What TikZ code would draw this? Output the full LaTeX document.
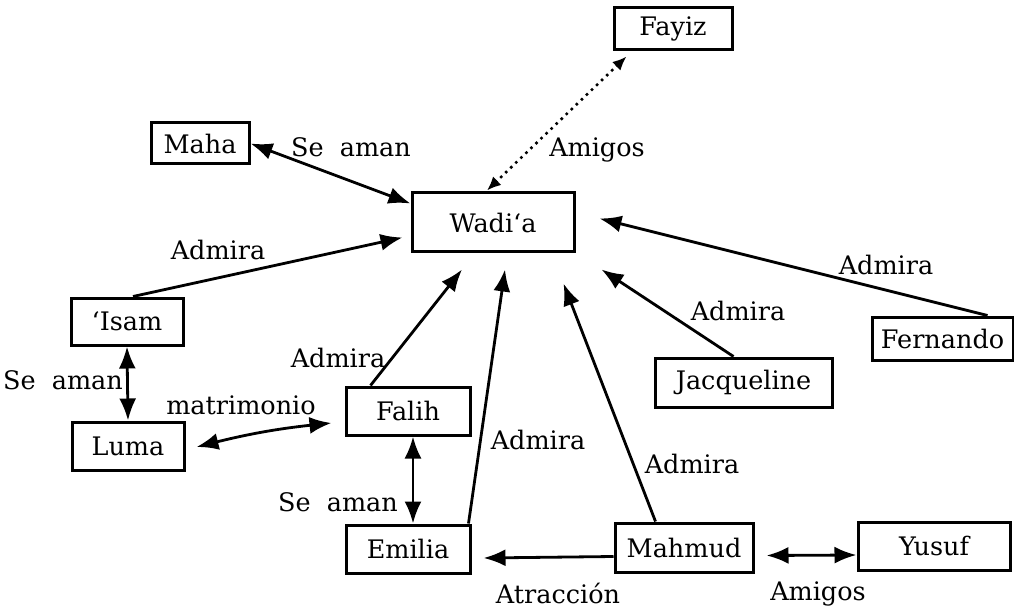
\documentclass[tikz,border=0pt]{standalone}
\usepackage{fontspec}
\setmainfont{DejaVu Serif}
\usetikzlibrary{arrows.meta,calc}
\begin{document}
\begin{tikzpicture}[x=1pt,y=-1pt,
  person/.style={draw, line width=3pt, inner sep=0pt, font=\fontsize{25.5}{28}\selectfont},
  lbl/.style={inner sep=0pt, font=\fontsize{25.5}{28}\selectfont},
  tip/.tip={Latex[length=22pt,width=17pt]},
  smalltip/.tip={Latex[length=14pt,width=12pt]},
  rel/.style={line width=2.8pt, -tip},
  both/.style={line width=2.8pt, tip-tip},
  friends/.style={line width=3.6pt, line cap=round, dash pattern=on 0pt off 7pt, smalltip-smalltip}]
\useasboundingbox (0,0) rectangle (1014,612);

% people
\node[person, minimum width=118pt, minimum height=42pt] (fayiz) at (673,29) {Fayiz};
\node[person, minimum width=98pt, minimum height=41pt] (maha) at (200,143.5) {Maha};
\node[person, minimum width=162pt, minimum height=59pt] (wadia) at (493,222.5) {Wadi‘a};
\node[person, minimum width=112pt, minimum height=47pt] (isam) at (127,321.5) {‘Isam};
\node[person, minimum width=112pt, minimum height=48pt] (luma) at (128,446) {Luma};
\node[person, minimum width=124pt, minimum height=48pt] (falih) at (408,411) {Falih};
\node[person, minimum width=124pt, minimum height=48pt] (emilia) at (408,549) {Emilia};
\node[person, minimum width=177pt, minimum height=49pt] (jacq) at (743.5,382.5) {Jacqueline};
\node[person, minimum width=141pt, minimum height=43pt] (fern) at (942.5,338.5) {Fernando};
\node[person, minimum width=138pt, minimum height=49pt] (mahmud) at (684,547.5) {Mahmud};
\node[person, minimum width=152pt, minimum height=48pt] (yusuf) at (934,546) {Yusuf};

% labels
\node[lbl] (lmaha) at (351,147) {Se\ \ aman};
\node[lbl] (lfayiz) at (597,150) {Amigos};
\node[lbl] (lisamw) at (218,250) {Admira};
\node[lbl] (lfern) at (886,265) {Admira};
\node[lbl] (ljacq) at (738,311) {Admira};
\node[lbl] (lfalih) at (338,358) {Admira};
\node[lbl] (lisam) at (63,380) {Se\ \ aman};
\node[lbl] (lmatri) at (241,405) {matrimonio};
\node[lbl] (lemw) at (538,440) {Admira};
\node[lbl] (lmahw) at (692,464) {Admira};
\node[lbl] (lfe) at (338,502) {Se\ \ aman};
\node[lbl] (latr) at (558,593) {Atracción};
\node[lbl] (lyus) at (818,594) {Amigos};

% connectors
\draw[both] (maha.east) -- ($(wadia.north west)+(0,12)$);
\draw[friends] ($(wadia.north)+(-6,-1)$) -- ($(fayiz.south west)+(14,5)$);
\draw[rel] ($(isam.north)+(6,0)$) -- ($(wadia.west)+(-8,15)$);
\draw[rel] ($(fern.north)+(45,0)$) -- ($(wadia.east)+(24,-4)$);
\draw[rel] ($(jacq.north)+(-10,0)$) -- ($(wadia.south east)+(26,16)$);
\draw[rel] ($(falih.north west)+(26,0)$) -- ($(wadia.south)+(-31,16)$);
\draw[rel] ($(emilia.north east)+(-3,0)$) -- ($(wadia.south)+(12,16)$);
\draw[rel] ($(mahmud.north west)+(42,0)$) -- ($(wadia.south east)+(-12,30)$);
\draw[both] (isam.south) -- (luma.north);
\draw[both] ($(luma.east)+(11,1)$) to[bend left=4] ($(falih.west)+(-13,12)$);
\draw[both] ($(falih.south)+(5,0)$) -- ($(emilia.north)+(5,0)$);
\draw[rel] ($(mahmud.west)+(0,9)$) -- ($(emilia.east)+(12,9)$);
\draw[both] ($(mahmud.east)+(12,8)$) -- ($(yusuf.west)+(0,9)$);
\end{tikzpicture}
\end{document}
